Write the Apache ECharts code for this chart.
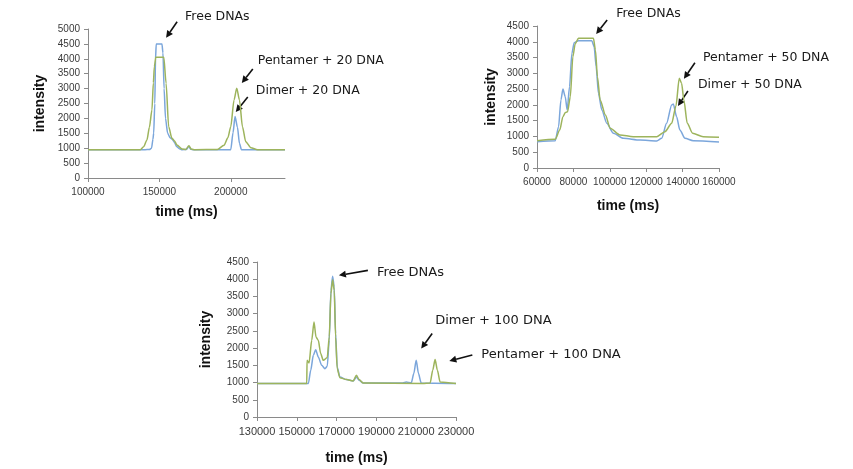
<!DOCTYPE html>
<html>
<head>
<meta charset="utf-8">
<script src="https://cdn.jsdelivr.net/npm/echarts@6/dist/echarts.min.js"></script>
<style>html,body{margin:0;padding:0;background:#fff}#c{width:853px;height:469px}</style>
</head>
<body>
<div id="c"></div>
<script>
// ---------- Data (time in ms, intensity) ----------
// Chart 1: 20 DNA
const c1Dimer = [[100000,950],[140000,950],[143000,955],[144500,1000],[145500,1300],[146000,1500],[146800,2500],[147300,4000],[147800,4500],[151800,4500],[152500,4200],[153300,3000],[154300,2000],[155800,1500],[157500,1350],[159000,1300],[160500,1200],[162000,1060],[164000,980],[166000,950],[169000,960],[170700,1060],[172000,965],[174000,950],[200000,950],[201600,1520],[203000,2060],[204700,1700],[206100,1165],[207500,950],[238000,950]];
const c1Pentamer = [[100000,950],[136600,951],[139000,1050],[141300,1276],[143000,1700],[144800,2285],[145800,3200],[146500,3740],[147500,4050],[153100,4050],[154700,3180],[156500,1720],[158800,1330],[160500,1250],[162300,1110],[165900,975],[168500,960],[170700,1080],[172500,965],[175000,950],[190600,955],[195300,1100],[198000,1350],[200000,1722],[202300,2618],[204200,3010],[206100,2618],[208200,1722],[210500,1218],[214100,1017],[218800,950],[238000,950]];

// Chart 2: 50 DNA
const c2Dimer = [[60000,830],[70030,865],[71850,1309],[73150,2155],[74250,2503],[75500,2260],[76600,1838],[77870,2577],[79170,3635],[80440,3971],[82800,4034],[90140,4034],[91400,3844],[92500,3210],[93760,2367],[95620,1838],[98360,1416],[102000,1100],[107500,941],[116600,887],[125800,856],[128500,941],[131200,1416],[134000,1997],[134900,2028],[136700,1627],[138500,1204],[141300,941],[145800,866],[160000,824]];
const c2Pentamer = [[60000,866],[70000,909],[72500,1204],[74250,1627],[75500,1753],[76800,1785],[78300,2260],[79700,3529],[81000,3940],[82800,4110],[91000,4110],[92100,3740],[93200,2894],[94700,2155],[97600,1680],[100200,1258],[105600,1046],[112900,992],[125800,992],[130300,1151],[134000,1416],[136350,1965],[138150,2843],[139450,2685],[140700,2155],[142550,1416],[145500,1100],[151300,992],[160000,972]];

// Chart 3: 100 DNA
const c3Dimer = [[130000,970],[155800,970],[157000,1356],[158300,1791],[159500,1955],[160800,1742],[162500,1501],[164150,1404],[165300,1471],[166300,2227],[167150,3678],[168000,4085],[168800,3774],[169500,2421],[170300,1452],[171650,1161],[175000,1086],[178300,1045],[180000,1161],[181300,1065],[183300,987],[203300,987],[205000,1016],[207500,987],[208800,1260],[210000,1646],[211150,1260],[212500,987],[230000,970]];
const c3Pentamer = [[130000,970],[155000,970],[155150,1646],[156150,1568],[157500,2227],[158650,2758],[159650,2323],[160800,2227],[162000,1840],[163300,1646],[165300,1724],[166300,2323],[167150,3582],[168000,3988],[168800,3678],[169500,2323],[170300,1404],[171650,1142],[175000,1086],[178300,1045],[180000,1210],[181300,1086],[183300,987],[213300,970],[217000,987],[218300,1356],[219500,1666],[220650,1356],[222000,1016],[230000,970]];

// Axis ranges / tick labels
const xRanges = [[100000,238000,50000],[60000,160000,20000],[130000,230000,20000]];
const yRanges = [[0,5000,500],[0,4500,500],[0,4500,500]];
const xTicks1 = [100000,150000,200000];

// Annotations: [chart index, text, tip x (ms), tip y (intensity)]
const annotations = [
  [0,'Free DNAs',154700,4708],
  [0,'Pentamer + 20 DNA',207740,3188],
  [0,'Dimer + 20 DNA',203520,2215],
  [1,'Free DNAs',92500,4246],
  [1,'Pentamer + 50 DNA',140720,2830],
  [1,'Dimer + 50 DNA',137430,1965],
  [2,'Free DNAs',171150,4112],
  [2,'Dimer + 100 DNA',212500,1986],
  [2,'Pentamer + 100 DNA',226650,1626]
];
// pixel offsets from tip: tail dx,dy ; text dx,dy
const annOffsets = [
  [11,-16,19,-21],
  [11,-14,16,-22],
  [12,-15,20,-21],
  [11,-14,20,-20],
  [11,-16,19,-21],
  [10,-15,20,-21],
  [29,-5,38,-3],
  [11,-15,14,-28],
  [23,-6,32,-6]
];

const BLUE = '#7ba6db', GREEN = '#9db45c';
const chart = echarts.init(document.getElementById('c'), null, {renderer:'canvas'});

const grids = [
  {left:88, top:29, width:197, height:149},
  {left:537, top:26, width:182, height:142},
  {left:257, top:262, width:199, height:155}
];
const xNameGap = [27, 31, 34];
const yNameGap = [41, 39, 44];
const xLabelSize = [10, 10, 11];
const axisLineStyle = {lineStyle:{color:'#8a8a8a', width:1}};
const plain = v => String(v);

const xAxes = grids.map((g,i)=>{
  const ax = {
    type:'value', gridIndex:i, min:xRanges[i][0], max:xRanges[i][1], interval:xRanges[i][2],
    name:'time (ms)', nameLocation:'middle', nameGap:xNameGap[i],
    nameTextStyle:{fontFamily:'Liberation Sans', fontWeight:'bold', fontSize:14, color:'#111'},
    axisLine:{show:true, onZero:false, ...axisLineStyle},
    axisTick:{show:true, inside:false, length:4, lineStyle:{color:'#8a8a8a'}},
    splitLine:{show:false},
    axisLabel:{fontFamily:'Liberation Sans', fontSize:xLabelSize[i], color:'#3a3a3a', margin:9, hideOverlap:false, formatter:plain}
  };
  if (i===0){
    ax.axisLabel.customValues = xTicks1;
    ax.axisTick.customValues = xTicks1;
  }
  return ax;
});
const yAxes = grids.map((g,i)=>({
  type:'value', gridIndex:i, min:yRanges[i][0], max:yRanges[i][1], interval:yRanges[i][2],
  name:'intensity', nameLocation:'middle', nameGap:yNameGap[i], nameRotate:90,
  nameTextStyle:{fontFamily:'Liberation Sans', fontWeight:'bold', fontSize:14, color:'#111'},
  axisLine:{show:true, ...axisLineStyle},
  axisTick:{show:true, inside:false, length:4, lineStyle:{color:'#8a8a8a'}},
  splitLine:{show:false},
  axisLabel:{fontFamily:'Liberation Sans', fontSize:10, color:'#3a3a3a', margin:8, formatter:plain}
}));

const seriesData = [
  ['Dimer + 20 DNA', c1Dimer, 0, BLUE],
  ['Pentamer + 20 DNA', c1Pentamer, 0, GREEN],
  ['Dimer + 50 DNA', c2Dimer, 1, BLUE],
  ['Pentamer + 50 DNA', c2Pentamer, 1, GREEN],
  ['Dimer + 100 DNA', c3Dimer, 2, BLUE],
  ['Pentamer + 100 DNA', c3Pentamer, 2, GREEN]
];
const series = seriesData.map(([name,data,gi,color])=>({
  type:'line', name, data, xAxisIndex:gi, yAxisIndex:gi,
  showSymbol:false, smooth:0.25, smoothMonotone:'x',
  lineStyle:{color, width:1.5}, itemStyle:{color}, animation:false
}));

chart.setOption({
  animation:false,
  backgroundColor:'#fff',
  grid:grids,
  xAxis:xAxes,
  yAxis:yAxes,
  series
});

// annotations (arrows + text), positioned from data coords of the arrow tips
const graphics = [];
annotations.forEach((a,k)=>{
  const [gi,text,tx,ty] = a;
  const [tdx,tdy,xdx,xdy] = annOffsets[k];
  const p = chart.convertToPixel({xAxisIndex:gi, yAxisIndex:gi}, [tx,ty]);
  const tipX = p[0], tipY = p[1];
  const sx = tipX + tdx, sy = tipY + tdy;
  const dx = tipX - sx, dy = tipY - sy;
  const len = Math.sqrt(dx*dx+dy*dy);
  const ux = dx/len, uy = dy/len;
  const hl = 7, hw = 3.5;
  const bx = tipX - ux*hl, by = tipY - uy*hl;
  graphics.push({type:'line', shape:{x1:sx,y1:sy,x2:bx,y2:by}, style:{stroke:'#111', lineWidth:1.6}, silent:true});
  graphics.push({type:'polygon', shape:{points:[[tipX,tipY],[bx - uy*hw, by + ux*hw],[bx + uy*hw, by - ux*hw]]}, style:{fill:'#111'}, silent:true});
  graphics.push({type:'text', x:tipX + xdx, y:tipY + xdy, style:{text, fill:'#1a1a1a', font:(gi===2?'13px':'12.5px')+' "DejaVu Sans"', align:'left', verticalAlign:'middle'}, silent:true});
});
chart.setOption({graphic:graphics});
</script>
</body>
</html>
